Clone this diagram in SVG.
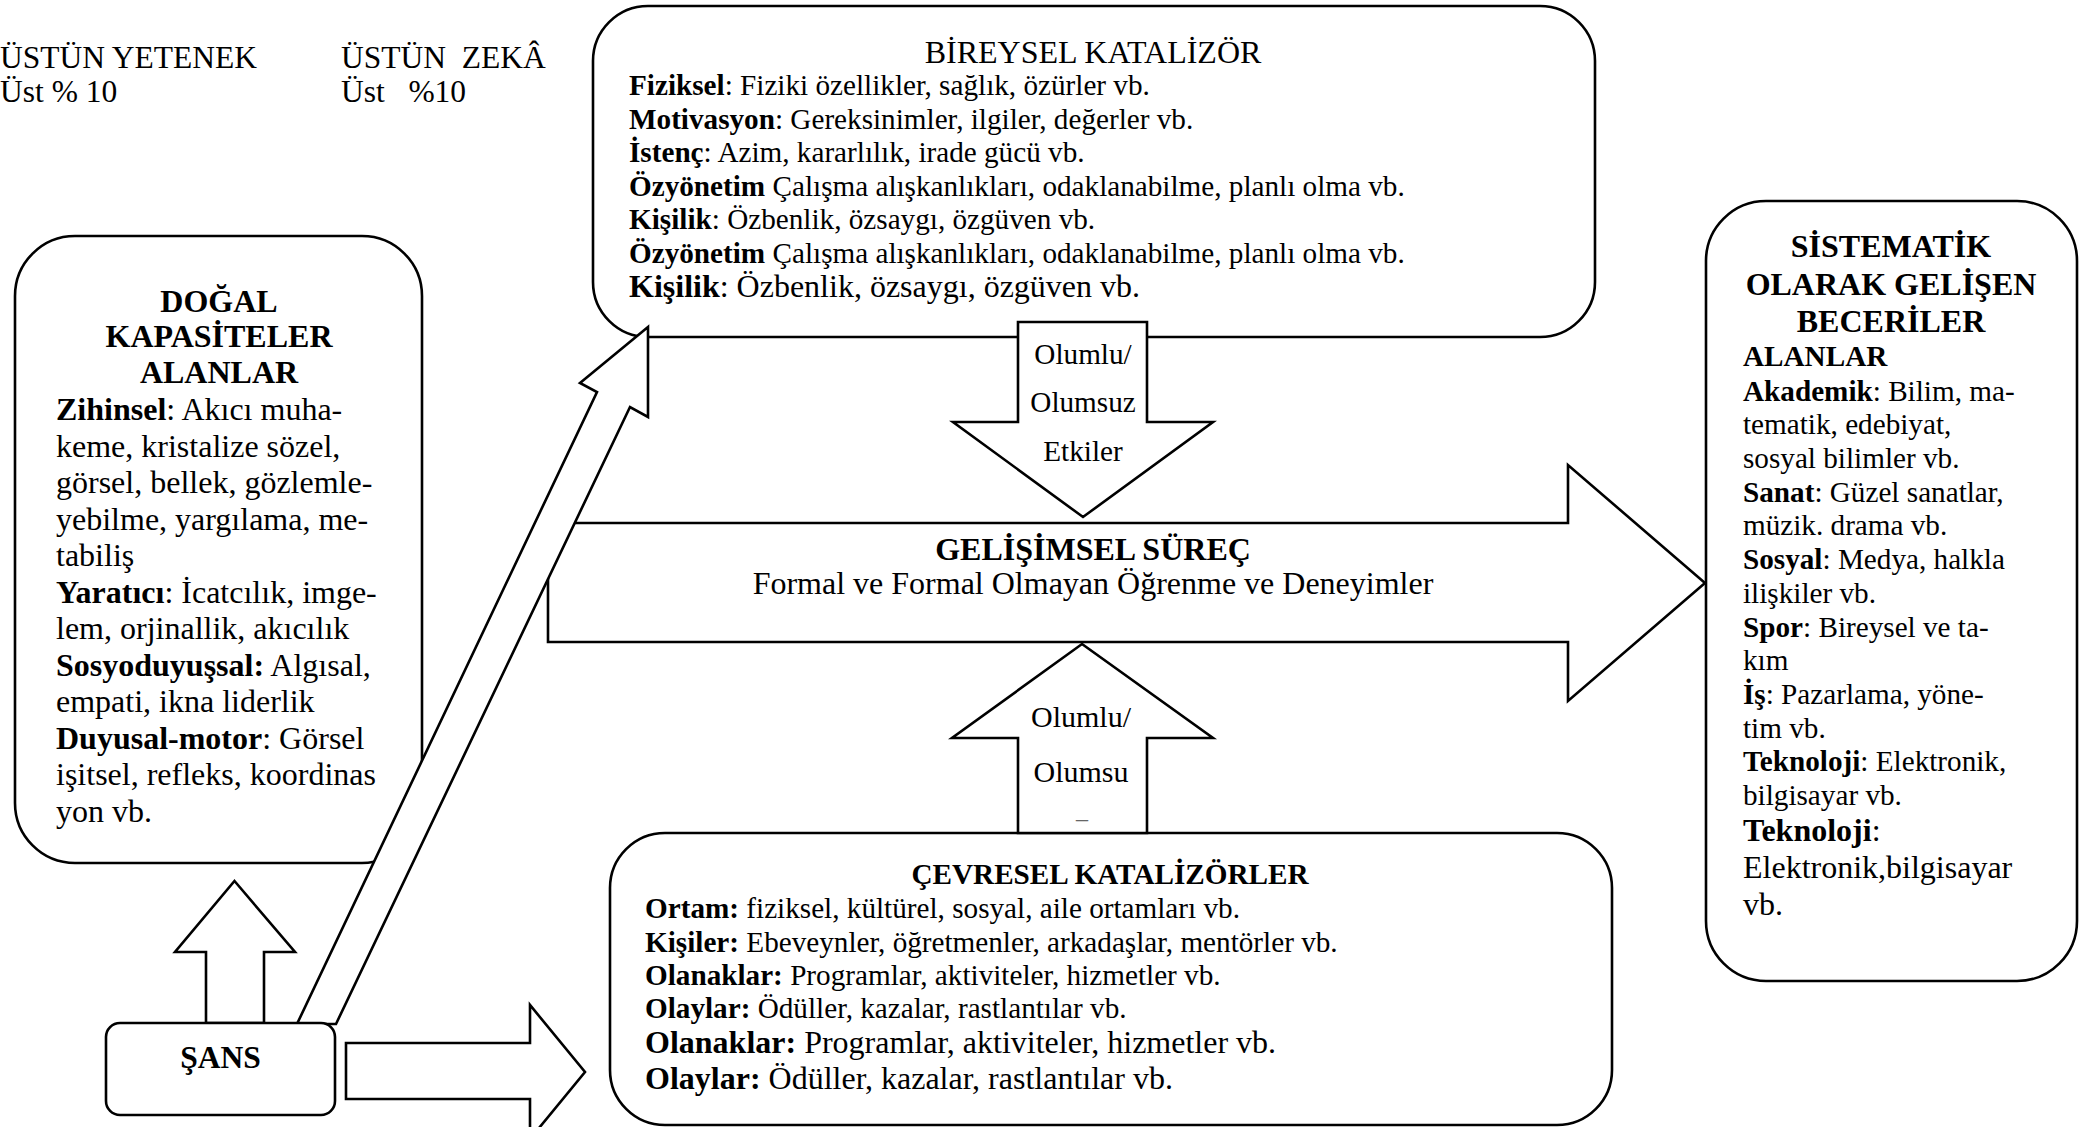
<svg xmlns="http://www.w3.org/2000/svg" width="2080" height="1127" viewBox="0 0 2080 1127">
<style>
.shape{fill:#fff;stroke:#000;stroke-width:2.6;stroke-linejoin:miter}
.t{font-family:"Liberation Serif","Times New Roman",serif;fill:#000}
.b{font-weight:bold}
.c{text-anchor:middle}
.s29{font-size:29.2px}
.s30{font-size:30px}
.s31{font-size:31.5px}
.s32{font-size:32px}
</style>
<rect width="2080" height="1127" fill="#fff"/>
<g id="heading">
<text class="t s31" x="0" y="68">ÜSTÜN YETENEK</text>
<text class="t s31" x="0" y="102">Üst % 10</text>
<text class="t s31" x="341" y="68" xml:space="preserve">ÜSTÜN  ZEKÂ</text>
<text class="t s31" x="341" y="102" xml:space="preserve">Üst   %10</text>
</g>
<g id="bireysel">
<rect class="shape" x="593" y="6" width="1002" height="331" rx="55" ry="55"/>
<text class="t s32 c" x="1093" y="63">BİREYSEL KATALİZÖR</text>
<text class="t s29" x="629" y="95"><tspan class="b">Fiziksel</tspan>: Fiziki özellikler, sağlık, özürler vb.</text>
<text class="t s29" x="629" y="129"><tspan class="b">Motivasyon</tspan>: Gereksinimler, ilgiler, değerler vb.</text>
<text class="t s29" x="629" y="162"><tspan class="b">İstenç</tspan>: Azim, kararlılık, irade gücü vb.</text>
<text class="t s29" x="629" y="196"><tspan class="b">Özyönetim</tspan> Çalışma alışkanlıkları, odaklanabilme, planlı olma vb.</text>
<text class="t s29" x="629" y="229"><tspan class="b">Kişilik</tspan>: Özbenlik, özsaygı, özgüven vb.</text>
<text class="t s29" x="629" y="263"><tspan class="b">Özyönetim</tspan> Çalışma alışkanlıkları, odaklanabilme, planlı olma vb.</text>
<text class="t s32" x="629" y="297"><tspan class="b">Kişilik</tspan>: Özbenlik, özsaygı, özgüven vb.</text>
</g>
<g id="dogal">
<rect class="shape" x="15" y="236" width="407" height="627" rx="60" ry="60"/>
<text class="t s32 b c" x="219" y="312">DOĞAL</text>
<text class="t s32 b c" x="219" y="347">KAPASİTELER</text>
<text class="t s32 b c" x="219" y="383">ALANLAR</text>
<text class="t s32" x="56" y="420"><tspan class="b">Zihinsel</tspan>: Akıcı muha-</text>
<text class="t s32" x="56" y="456.5">keme, kristalize sözel,</text>
<text class="t s32" x="56" y="493">görsel, bellek, gözlemle-</text>
<text class="t s32" x="56" y="529.5">yebilme, yargılama, me-</text>
<text class="t s32" x="56" y="566">tabiliş</text>
<text class="t s32" x="56" y="602.5"><tspan class="b">Yaratıcı</tspan>: İcatcılık, imge-</text>
<text class="t s32" x="56" y="639">lem, orjinallik, akıcılık</text>
<text class="t s32" x="56" y="675.5"><tspan class="b">Sosyoduyuşsal:</tspan> Algısal,</text>
<text class="t s32" x="56" y="712">empati, ikna liderlik</text>
<text class="t s32" x="56" y="748.5"><tspan class="b">Duyusal-motor</tspan>: Görsel</text>
<text class="t s32" x="56" y="785">işitsel, refleks, koordinas</text>
<text class="t s32" x="56" y="821.5">yon vb.</text>
</g>
<g id="sistematik">
<rect class="shape" x="1706" y="201" width="371" height="780" rx="60" ry="60"/>
<text class="t s32 b c" x="1891" y="257">SİSTEMATİK</text>
<text class="t s32 b c" x="1891" y="294.5">OLARAK GELİŞEN</text>
<text class="t s32 b c" x="1891" y="331.5">BECERİLER</text>
<text class="t s29 b" x="1743" y="366">ALANLAR</text>
<text class="t s29" x="1743" y="400.6"><tspan class="b">Akademik</tspan>: Bilim, ma-</text>
<text class="t s29" x="1743" y="434.3">tematik, edebiyat,</text>
<text class="t s29" x="1743" y="468">sosyal bilimler vb.</text>
<text class="t s29" x="1743" y="501.7"><tspan class="b">Sanat</tspan>: Güzel sanatlar,</text>
<text class="t s29" x="1743" y="535.4">müzik. drama vb.</text>
<text class="t s29" x="1743" y="569.1"><tspan class="b">Sosyal</tspan>: Medya, halkla</text>
<text class="t s29" x="1743" y="602.8">ilişkiler vb.</text>
<text class="t s29" x="1743" y="636.5"><tspan class="b">Spor</tspan>: Bireysel ve ta-</text>
<text class="t s29" x="1743" y="670.2">kım</text>
<text class="t s29" x="1743" y="703.9"><tspan class="b">İş</tspan>: Pazarlama, yöne-</text>
<text class="t s29" x="1743" y="737.6">tim vb.</text>
<text class="t s29" x="1743" y="771.3"><tspan class="b">Teknoloji</tspan>: Elektronik,</text>
<text class="t s29" x="1743" y="805">bilgisayar vb.</text>
<text class="t s32" x="1743" y="841"><tspan class="b">Teknoloji</tspan>:</text>
<text class="t s32" x="1743" y="878">Elektronik,bilgisayar</text>
<text class="t s32" x="1743" y="915">vb.</text>
</g>
<g id="cevresel">
<rect class="shape" x="610" y="833" width="1002" height="292" rx="55" ry="55"/>
<text class="t s29 b c" x="1110" y="884">ÇEVRESEL KATALİZÖRLER</text>
<text class="t s29" x="645" y="918"><tspan class="b">Ortam:</tspan> fiziksel, kültürel, sosyal, aile ortamları vb.</text>
<text class="t s29" x="645" y="952"><tspan class="b">Kişiler:</tspan> Ebeveynler, öğretmenler, arkadaşlar, mentörler vb.</text>
<text class="t s29" x="645" y="985"><tspan class="b">Olanaklar:</tspan> Programlar, aktiviteler, hizmetler vb.</text>
<text class="t s29" x="645" y="1018"><tspan class="b">Olaylar:</tspan> Ödüller, kazalar, rastlantılar vb.</text>
<text class="t s32" x="645" y="1053"><tspan class="b">Olanaklar:</tspan> Programlar, aktiviteler, hizmetler vb.</text>
<text class="t s32" x="645" y="1089"><tspan class="b">Olaylar:</tspan> Ödüller, kazalar, rastlantılar vb.</text>
</g>
<g id="gelisimsel">
<polygon class="shape" points="548,523 1568,523 1568,465 1705,583 1568,701 1568,642 548,642"/>
<text class="t s32 b c" x="1093" y="560">GELİŞİMSEL SÜREÇ</text>
<text class="t s32 c" x="1093" y="594">Formal ve Formal Olmayan Öğrenme ve Deneyimler</text>
</g>
<g id="connectors">
<polygon class="shape" points="1018,322 1147,322 1147,422 1213,422 1083,517 953,422 1018,422"/>
<text class="t s29 c" x="1083" y="364">Olumlu/</text>
<text class="t s29 c" x="1083" y="412">Olumsuz</text>
<text class="t s29 c" x="1083" y="461">Etkiler</text>
<polygon class="shape" points="1082,644 1213,738 1147,738 1147,833 1018,833 1018,738 952,738"/>
<text class="t s30 c" x="1081" y="727">Olumlu/</text>
<text class="t s30 c" x="1081" y="782">Olumsu</text>
<text class="t c" x="1082" y="818" style="font-size:24px;fill:#666">_</text>
<polygon class="shape" points="648,327 648,417 630,407 336,1024 297,1024 597,392 580,383"/>
<polygon class="shape" points="234.5,881 295,952 264,952 264,1023 206,1023 206,952 175,952"/>
<polygon class="shape" points="346,1043 530,1043 530,1005 585,1072 530,1139 530,1099 346,1099"/>
</g>
<g id="sans">
<rect class="shape" x="106" y="1023" width="229" height="92" rx="14" ry="14"/>
<text class="t s31 b c" x="220.5" y="1068">ŞANS</text>
</g>
</svg>
